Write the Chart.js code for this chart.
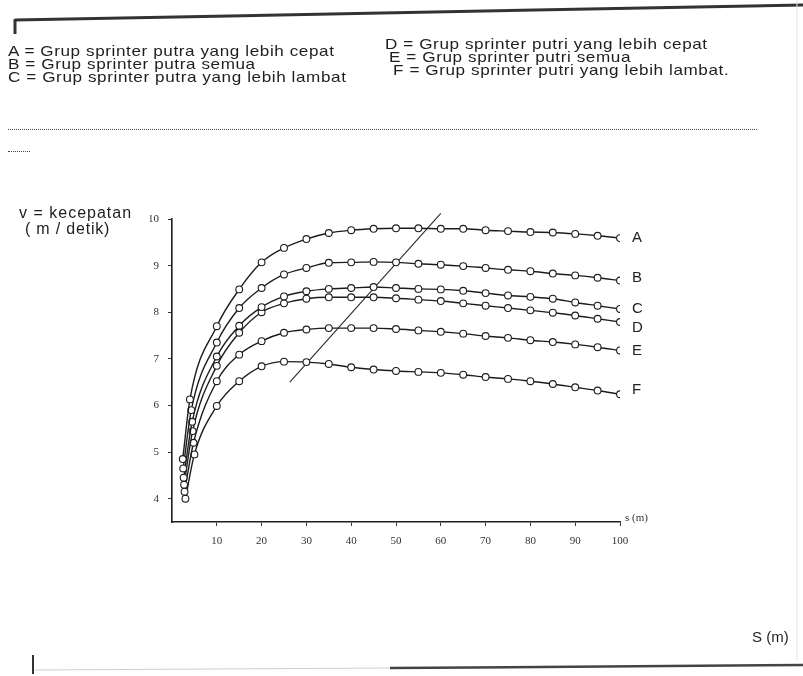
<!DOCTYPE html>
<html>
<head>
<meta charset="utf-8">
<script src="https://cdn.jsdelivr.net/npm/chart.js@4"></script>
<style>
    body { margin: 0; background: #fff; }
    #page { position: relative; width: 803px; height: 676px; overflow: hidden; font-family: "Liberation Sans", Arial, sans-serif; color: #1e1e1e; }
    #page canvas { position: absolute; left: 0; top: 0; }
    .t { position: absolute; white-space: nowrap; line-height: 1; }
    .leg { font-size: 14.5px; letter-spacing: 0.5px; transform: scaleX(1.18); transform-origin: left top; }
    .dots { position: absolute; border-top: 1px dotted #444; height: 0; }
    svg { position: absolute; left: 0; top: 0; }
</style>
</head>
<body>
<div id="page">
    <canvas id="chart" width="803" height="676"></canvas>
    <svg width="803" height="676">
        <line x1="15" y1="20" x2="803" y2="5" stroke="#333" stroke-width="3"/>
        <line x1="15" y1="19" x2="15" y2="34" stroke="#333" stroke-width="3"/>
        <line x1="797" y1="0" x2="797" y2="660" stroke="#e4e4e4" stroke-width="1"/>
        <line x1="33" y1="655" x2="33" y2="674" stroke="#333" stroke-width="2"/>
        <line x1="35" y1="670" x2="390" y2="668" stroke="#cfcfcf" stroke-width="1"/>
        <line x1="390" y1="668" x2="803" y2="665" stroke="#444" stroke-width="2.5"/>
    </svg>
    <div class="t leg" style="left:8px;top:44px">A = Grup sprinter putra yang lebih cepat</div>
    <div class="t leg" style="left:8px;top:57px">B = Grup sprinter putra semua</div>
    <div class="t leg" style="left:8px;top:70px">C = Grup sprinter putra yang lebih lambat</div>
    <div class="t leg" style="left:385px;top:37px">D = Grup sprinter putri yang lebih cepat</div>
    <div class="t leg" style="left:389px;top:50px">E = Grup sprinter putri semua</div>
    <div class="t leg" style="left:393px;top:63px">F = Grup sprinter putri yang lebih lambat.</div>
    <div class="dots" style="left:8px;top:129px;width:749px"></div>
    <div class="dots" style="left:8px;top:151px;width:22px"></div>
    <div class="t" style="left:19px;top:205px;font-size:16px;letter-spacing:1px">v = kecepatan</div>
    <div class="t" style="left:25px;top:221px;font-size:16px;letter-spacing:0.8px">( m / detik)</div>
    <div class="t" style="left:752px;top:629px;font-size:15px">S (m)</div>
</div>
<script>
// distance (m) of the regular points, every 5 m
const distances = [10, 15, 20, 25, 30, 35, 40, 45, 50, 55, 60, 65, 70, 75, 80, 85, 90, 95, 100];
const seriesNames = ['A', 'B', 'C', 'D', 'E', 'F'];
const speedA = [7.70, 8.49, 9.07, 9.38, 9.57, 9.70, 9.76, 9.79, 9.80, 9.80, 9.79, 9.79, 9.76, 9.74, 9.72, 9.71, 9.68, 9.64, 9.59];
const speedB = [7.35, 8.09, 8.52, 8.81, 8.95, 9.06, 9.07, 9.08, 9.07, 9.04, 9.02, 8.99, 8.95, 8.91, 8.88, 8.83, 8.79, 8.74, 8.68];
const speedC = [7.05, 7.71, 8.11, 8.34, 8.45, 8.50, 8.52, 8.54, 8.52, 8.50, 8.49, 8.46, 8.41, 8.36, 8.33, 8.29, 8.21, 8.14, 8.07];
const speedD = [6.85, 7.56, 8.00, 8.19, 8.29, 8.32, 8.32, 8.32, 8.30, 8.27, 8.24, 8.19, 8.14, 8.09, 8.04, 7.99, 7.93, 7.86, 7.79];
const speedE = [6.52, 7.09, 7.38, 7.56, 7.63, 7.66, 7.66, 7.66, 7.64, 7.61, 7.58, 7.54, 7.49, 7.45, 7.40, 7.36, 7.31, 7.25, 7.18];
const speedF = [5.99, 6.52, 6.84, 6.94, 6.93, 6.89, 6.82, 6.77, 6.74, 6.72, 6.70, 6.66, 6.61, 6.57, 6.52, 6.46, 6.39, 6.32, 6.24];
// first two points of each group (start of the run)
const startDist = [[2.4, 4.0], [2.5, 4.3], [2.6, 4.5], [2.7, 4.6], [2.8, 4.8], [3.0, 5.0]];
const startSpeed = [[4.85, 6.13], [4.65, 5.90], [4.45, 5.65], [4.30, 5.45], [4.15, 5.20], [4.00, 4.95]];
// the slanted line through the curves
const slopeDist = [26.3, 60];
const slopeSpeed = [6.5, 10.12];
const xTicks = [10, 20, 30, 40, 50, 60, 70, 80, 90, 100];
const yTicks = [4, 5, 6, 7, 8, 9, 10];

const speeds = [speedA, speedB, speedC, speedD, speedE, speedF];
const serif = "'Liberation Serif', 'DejaVu Serif', serif";

let datasets = speeds.map((vals, i) => ({
    label: seriesNames[i],
    data: startDist[i].map((d, k) => ({x: d, y: startSpeed[i][k]}))
        .concat(distances.map((d, k) => ({x: d, y: vals[k]}))),
    borderColor: '#1c1c1c',
    borderWidth: 1.4,
    pointRadius: 3.4,
    pointBorderWidth: 1.1,
    pointBackgroundColor: '#fff',
    pointBorderColor: '#1c1c1c',
    cubicInterpolationMode: 'monotone',
}));
datasets.push({
    label: 'slope',
    data: slopeDist.map((d, k) => ({x: d, y: slopeSpeed[k]})),
    borderColor: '#2a2a2a',
    borderWidth: 1.1,
    pointRadius: 0,
    clip: false,
});

const nudge = {B: -3, D: 6, F: -4};
const endLabels = {
    id: 'endLabels',
    afterDatasetsDraw(chart) {
        const ctx = chart.ctx, xs = chart.scales.x, ys = chart.scales.y;
        ctx.save();
        ctx.fillStyle = '#222';
        ctx.textBaseline = 'middle';
        ctx.font = "15px 'Liberation Sans', Arial, sans-serif";
        speeds.forEach((vals, i) => {
            let name = seriesNames[i];
            ctx.fillText(name, xs.getPixelForValue(distances[distances.length - 1]) + 12,
                ys.getPixelForValue(vals[vals.length - 1]) + (nudge[name] || 0));
        });
        ctx.font = "11px " + serif;
        ctx.fillStyle = '#333';
        ctx.fillText('s (m)', xs.right + 5, ys.bottom - 4);
        ctx.restore();
    }
};

new Chart(document.getElementById('chart'), {
    type: 'line',
    data: {datasets: datasets},
    plugins: [endLabels],
    options: {
        responsive: false,
        animation: false,
        devicePixelRatio: 1,
        layout: {padding: {left: 150, top: 219, right: 183, bottom: 124}},
        plugins: {legend: {display: false}, tooltip: {enabled: false}},
        scales: {
            x: {
                type: 'linear', min: 0, max: 100,
                afterBuildTicks: (s) => { s.ticks = xTicks.map(v => ({value: v})); },
                afterFit: (s) => { s.height = 30; },
                grid: {drawOnChartArea: false, tickLength: 4, color: '#333'},
                border: {color: '#1e1e1e', width: 1.6},
                ticks: {color: '#333', padding: 9, font: {family: serif, size: 11}},
            },
            y: {
                min: 3.5, max: 10,
                afterBuildTicks: (s) => { s.ticks = yTicks.map(v => ({value: v})); },
                afterFit: (s) => { s.width = 22; },
                grid: {drawOnChartArea: false, tickLength: 4, color: '#333'},
                border: {color: '#1e1e1e', width: 1.6},
                ticks: {color: '#333', padding: 9, font: {family: serif, size: 11}},
            }
        }
    }
});
</script>
</body>
</html>
